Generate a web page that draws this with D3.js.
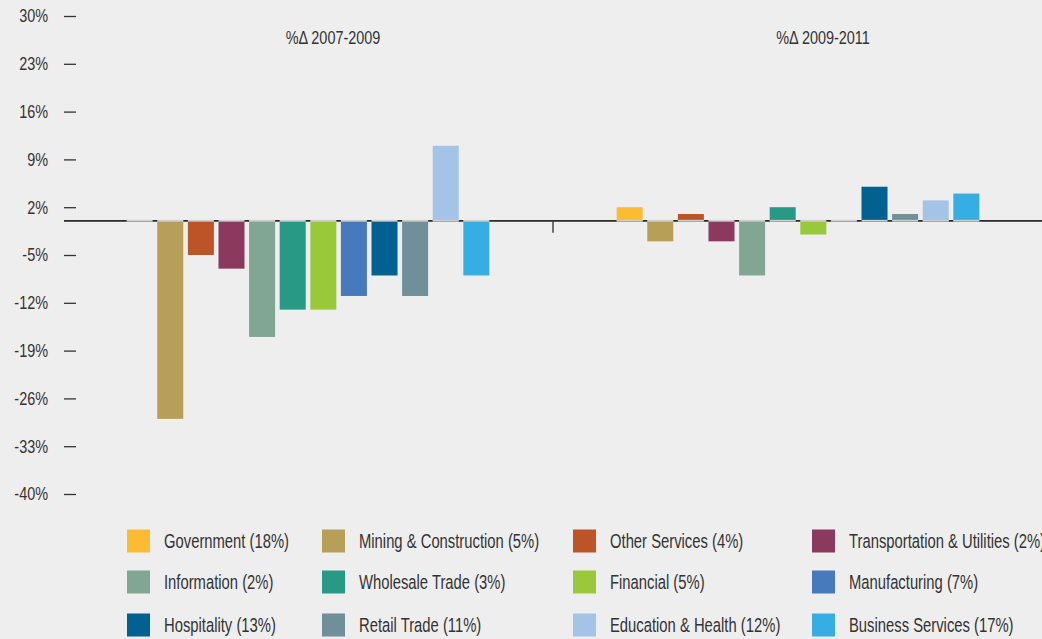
<!DOCTYPE html>
<html>
<head>
<meta charset="utf-8">
<script src="https://cdn.jsdelivr.net/npm/d3@7"></script>
<style>
  html, body { margin: 0; padding: 0; background: #eeeeee; }
  svg { display: block; }
  text { font-family: "Liberation Sans", Arial, sans-serif; fill: #333333; }
</style>
</head>
<body>
<svg id="chart" width="1042" height="639"></svg>
<script>
// ---- data ----
const periods = ["2007-2009", "2009-2011"];
const periodTitles = ["%\u0394 2007-2009", "%\u0394 2009-2011"];
const categories = ["Government", "Mining & Construction", "Other Services", "Transportation & Utilities",
  "Information", "Wholesale Trade", "Financial", "Manufacturing",
  "Hospitality", "Retail Trade", "Education & Health", "Business Services"];
const shares = ["18%", "5%", "4%", "2%", "2%", "3%", "5%", "7%", "13%", "11%", "12%", "17%"];
const change2007_2009 = [0, -29, -5, -7, -17, -13, -13, -11, -8, -11, 11, -8];
const change2009_2011 = [2, -3, 1, -3, -8, 2, -2, 0, 5, 1, 3, 4];
const yTicks = [30, 23, 16, 9, 2, -5, -12, -19, -26, -33, -40];
const colors = ["#fbbc33", "#b79f57", "#bd5427", "#8b3a5e", "#82a694", "#289985",
  "#99c93b", "#4779bd", "#026191", "#6f8f99", "#a3c4e7", "#36aee3"];

const seriesByPeriod = [change2007_2009, change2009_2011];

const svg = d3.select("#chart");

const y = d3.scaleLinear().domain([-40, 30]).range([494, 16]);
const x0 = d3.scaleBand().domain(periods).range([63, 1043]).padding(0);
const x1 = d3.scaleBand().domain(categories).range([0, x0.bandwidth()])
  .paddingInner(0.15).paddingOuter(2.08);
const color = d3.scaleOrdinal().domain(categories).range(colors);

// y axis
const yAxis = d3.axisLeft(y).tickValues(yTicks).tickFormat(d => d + "%")
  .tickSize(12).tickPadding(16);
const gy = svg.append("g").attr("transform", "translate(76,0)").call(yAxis);
gy.select(".domain").remove();
gy.selectAll(".tick line").attr("stroke", "#333").attr("stroke-width", 1.3);
gy.selectAll(".tick text")
  .style("font-size", "18.5px").attr("fill", "#333")
  .attr("x", 0)
  .attr("transform", "translate(-28,0) scale(0.78,1)");

// baseline
svg.append("line")
  .attr("x1", 64).attr("x2", 1042)
  .attr("y1", y(0)).attr("y2", y(0))
  .attr("stroke", "#2a2a2a").attr("stroke-width", 1.6);

// category tick between groups
svg.append("line")
  .attr("x1", x0(periods[1])).attr("x2", x0(periods[1]))
  .attr("y1", y(0)).attr("y2", y(0) + 12)
  .attr("stroke", "#444").attr("stroke-width", 1.5);

// groups
const groups = svg.selectAll("g.period").data(periods).enter().append("g")
  .attr("class", "period")
  .attr("transform", d => `translate(${x0(d)},0)`);

groups.append("text")
  .attr("transform", `translate(${x0.bandwidth() / 2 + 25},43.5) scale(0.78,1)`)
  .attr("text-anchor", "middle")
  .style("font-size", "18.5px")
  .text((d, i) => periodTitles[i]);

groups.each(function(p, pi) {
  const vals = seriesByPeriod[pi];
  const g = d3.select(this);
  g.selectAll("rect.bar").data(categories).enter().append("rect")
    .attr("class", "bar")
    .attr("x", c => x1(c))
    .attr("width", x1.bandwidth())
    .attr("y", (c, i) => y(Math.max(0, vals[i])))
    .attr("height", (c, i) => Math.abs(y(vals[i]) - y(0)))
    .attr("fill", c => color(c));
  g.selectAll("rect.edge").data(categories).enter().append("rect")
    .attr("class", "edge")
    .attr("x", c => x1(c))
    .attr("width", x1.bandwidth())
    .attr("y", y(0) - 1)
    .attr("height", 1.8)
    .attr("fill", "#cfcfcf");
});

// legend
const legendCols = [127, 322, 573, 812];
const legendRows = [541, 582, 625];
const legend = svg.append("g");
const items = legend.selectAll("g").data(categories).enter().append("g")
  .attr("transform", (c, i) => `translate(${legendCols[i % 4]},${legendRows[Math.floor(i / 4)]})`);
items.append("rect")
  .attr("x", 0).attr("y", -11.5).attr("width", 23).attr("height", 23)
  .attr("fill", c => color(c));
items.append("text")
  .attr("transform", "translate(37,7) scale(0.76,1)")
  .style("font-size", "19.5px")
  .text((c, i) => `${c} (${shares[i]})`);
</script>
</body>
</html>
